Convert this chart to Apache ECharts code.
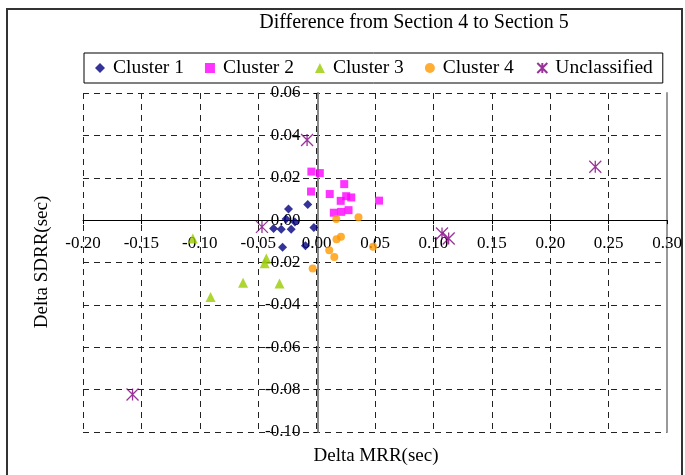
<!DOCTYPE html>
<html>
<head>
<meta charset="utf-8">
<script src="https://cdn.jsdelivr.net/npm/echarts@6/dist/echarts.min.js"></script>
<style>
  html, body { margin: 0; padding: 0; background: #fff; }
  #chart { width: 685px; height: 475px; }
</style>
</head>
<body>
<div id="chart"></div>
<script>
// Change in MRR (x) and SDRR (y) between section 4 and section 5, per cluster
const cluster1X = [-0.0076, -0.0241, -0.0262, -0.0186, -0.0369, -0.0303, -0.0218, -0.0024, -0.0292, -0.0096];
const cluster1Y = [0.0074, 0.0052, 0.0005, -0.0009, -0.0039, -0.0043, -0.0043, -0.0035, -0.0128, -0.0121];

const cluster2X = [-0.0045, 0.0027, -0.0048, 0.0112, 0.0236, 0.0206, 0.0253, 0.0296, 0.0534, 0.0147, 0.0210, 0.0273];
const cluster2Y = [0.0229, 0.0222, 0.0135, 0.0123, 0.0170, 0.0091, 0.0113, 0.0107, 0.0092, 0.0035, 0.0039, 0.0047];

const cluster3X = [-0.1060, -0.0431, -0.0445, -0.0630, -0.0318, -0.0908];
const cluster3Y = [-0.0087, -0.0181, -0.0203, -0.0296, -0.0299, -0.0363];

const cluster4X = [0.0168, 0.0358, 0.0170, 0.0208, 0.0108, 0.0151, 0.0483, -0.0034];
const cluster4Y = [0.0005, 0.0014, -0.0090, -0.0079, -0.0142, -0.0174, -0.0126, -0.0228];

const unclassifiedX = [-0.0082, -0.0468, 0.1073, 0.1130, 0.2385, -0.1576];
const unclassifiedY = [0.0378, -0.0032, -0.0063, -0.0087, 0.0252, -0.0823];

const seriesNames = ['Cluster 1', 'Cluster 2', 'Cluster 3', 'Cluster 4', 'Unclassified'];

// axis ranges and steps
const xMin = -0.20, xMax = 0.30, xStep = 0.05;
const yMin = -0.10, yMax = 0.06, yStep = 0.02;

const FONT = '"Liberation Serif", "DejaVu Serif", serif';
const pairs = (xs, ys) => xs.map((x, i) => [x, ys[i]]);
const asterisk = 'path://M0,0L10,10M10,0L0,10M5,0L5,10';

// plot area box
const W = 685, H = 475;
const grid = { left: 83, right: 16, top: 93, bottom: 43 };
const plotW = W - grid.left - grid.right;
const plotH = H - grid.top - grid.bottom;
// the axes cross at the origin: shift each axis from the grid edge to the zero line
const xAxisShift = -plotH * (0 - yMin) / (yMax - yMin);
const yAxisShift = -plotW * (0 - xMin) / (xMax - xMin);

const chart = echarts.init(document.getElementById('chart'), null, { renderer: 'canvas' });

const gridDash = { color: '#222', width: 1, type: [6, 5] };

chart.setOption({
  backgroundColor: '#fff',
  animation: false,
  textStyle: { fontFamily: FONT },
  grid: grid,
  legend: {
    left: 84, top: 53,
    padding: [5, 10, 5, 11],
    borderColor: '#000', borderWidth: 1,
    itemGap: 21, itemWidth: 10, itemHeight: 10,
    textStyle: { fontFamily: FONT, fontSize: 19.5, color: '#000', padding: [0, 0, 0, 3] },
    data: seriesNames
  },
  xAxis: {
    type: 'value', min: xMin, max: xMax, interval: xStep,
    position: 'bottom', offset: xAxisShift,
    axisLine: { onZero: false, lineStyle: { color: '#000', width: 1 } },
    axisTick: { show: true, length: 4, lineStyle: { color: '#000' } },
    axisLabel: { color: '#000', fontFamily: FONT, fontSize: 17, margin: 15,
                 formatter: v => v.toFixed(2) },
    splitLine: { show: true, lineStyle: gridDash }
  },
  yAxis: [{
    type: 'value', min: yMin, max: yMax, interval: yStep,
    position: 'left', offset: yAxisShift,
    axisLine: { show: true, onZero: false, lineStyle: { color: '#888', width: 2 } },
    axisTick: { show: true, length: 4, lineStyle: { color: '#000' } },
    axisLabel: { color: '#000', fontFamily: FONT, fontSize: 17, margin: 17,
                 formatter: v => v.toFixed(2) },
    splitLine: { show: true, lineStyle: gridDash }
  }, {
    // right edge of the plot area
    type: 'value', min: yMin, max: yMax, interval: yStep, position: 'right',
    axisLine: { show: true, onZero: false, lineStyle: { color: '#999', width: 2 } },
    axisTick: { show: false }, axisLabel: { show: false }, splitLine: { show: false }
  }],
  graphic: [
    { type: 'rect', shape: { x: 7, y: 9, width: 675, height: 475 },
      style: { fill: 'none', stroke: '#333', lineWidth: 2 }, silent: true },
    { type: 'text', x: 414, y: 23,
      style: { text: 'Difference from Section 4 to Section 5', font: '20px ' + FONT,
               fill: '#000', textAlign: 'center', textVerticalAlign: 'middle' } },
    { type: 'text', x: 376, y: 456,
      style: { text: 'Delta MRR(sec)', font: '19px ' + FONT,
               fill: '#000', textAlign: 'center', textVerticalAlign: 'middle' } },
    { type: 'text', x: 42, y: 262, rotation: Math.PI / 2,
      style: { text: 'Delta SDRR(sec)', font: '19px ' + FONT,
               fill: '#000', textAlign: 'center', textVerticalAlign: 'middle' } }
  ],
  series: [
    { name: seriesNames[0], type: 'scatter', symbol: 'diamond', symbolSize: 9,
      itemStyle: { color: '#000080' }, data: pairs(cluster1X, cluster1Y) },
    { name: seriesNames[1], type: 'scatter', symbol: 'rect', symbolSize: 8,
      itemStyle: { color: '#FF00FF' }, data: pairs(cluster2X, cluster2Y) },
    { name: seriesNames[2], type: 'scatter', symbol: 'triangle', symbolSize: 10,
      itemStyle: { color: '#99CC00' }, data: pairs(cluster3X, cluster3Y) },
    { name: seriesNames[3], type: 'scatter', symbol: 'circle', symbolSize: 8,
      itemStyle: { color: '#FF9900' }, data: pairs(cluster4X, cluster4Y) },
    { name: seriesNames[4], type: 'scatter', symbol: asterisk, symbolSize: 12,
      itemStyle: { color: 'none', borderColor: '#800080', borderWidth: 1.3 },
      data: pairs(unclassifiedX, unclassifiedY) }
  ]
});
</script>
</body>
</html>
